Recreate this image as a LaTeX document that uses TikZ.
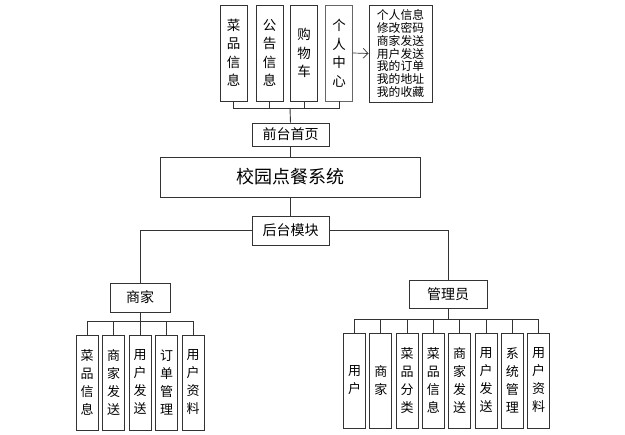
\documentclass[tikz,border=0pt]{standalone}
\usepackage{fontspec}
\newfontfamily\cjk{Noto Sans CJK SC}
\usetikzlibrary{arrows.meta}
\tikzset{
  box/.style={draw=black!80, line width=0.9pt, inner sep=0pt, align=center, text=black},
  vbox/.style={box, minimum width=22pt, minimum height=95pt, font=\cjk\fontsize{13}{18}\selectfont},
  tbox/.style={box, minimum width=27pt, minimum height=96pt, font=\cjk\fontsize{13.5}{18.5}\selectfont},
  hbox/.style={box, font=\cjk\fontsize{14}{16}\selectfont},
  conn/.style={draw=black!80, line width=0.9pt},
}
\begin{document}
\begin{tikzpicture}[x=1pt,y=-1pt]
\useasboundingbox (0,0) rectangle (625,435);
% top row
\node[tbox] (t1) at (233.5,53) {菜\\品\\信\\息};
\node[tbox] (t2) at (269.5,53) {公\\告\\信\\息};
\node[tbox] (t3) at (304,53) {购\\物\\车};
\node[tbox, draw=black!60] (t4) at (339,53) {个\\人\\中\\心};
\node[box, minimum width=63pt, minimum height=97pt, font=\cjk\fontsize{11.8}{12.7}\selectfont] (t5) at (400.5,53.5) {个人信息\\修改密码\\商家发送\\用户发送\\我的订单\\我的地址\\我的收藏};
\draw[conn, -{Straight Barb[length=5pt,width=10pt]}, line width=0.7pt] (t4.east) -- (t5.west);
% middle
\node[hbox, minimum width=77pt, minimum height=23pt] (qt) at (290.5,134.5) {前台首页};
\node[box, minimum width=260pt, minimum height=40pt, font=\cjk\fontsize{18}{20}\selectfont] (main) at (290,177) {校园点餐系统};
\node[hbox, minimum width=77pt, minimum height=29pt] (ht) at (290.5,230.5) {后台模块};
\coordinate (tbus) at (290,108);
\draw[conn] (qt.north) -- (tbus);
\foreach \n in {t1,t2,t3,t4} \draw[conn] (\n.south) |- (tbus);
\draw[conn] (qt.south) -- (qt.south |- main.north);
\draw[conn] (main.south) -- (main.south |- ht.north);
% second level
\node[hbox, minimum width=60pt, minimum height=29pt] (sj) at (140,297.5) {商家};
\node[hbox, minimum width=78pt, minimum height=28pt] (gly) at (448,294) {管理员};
\draw[conn] (ht.west) -| (sj.north);
\draw[conn] (ht.east) -| (gly.north);
% merchant children
\node[vbox] (a1) at (87,382.5) {菜\\品\\信\\息};
\node[vbox] (a2) at (113.5,382.5) {商\\家\\发\\送};
\node[vbox] (a3) at (140,382.5) {用\\户\\发\\送};
\node[vbox] (a4) at (166.5,382.5) {订\\单\\管\\理};
\node[vbox] (a5) at (193,382.5) {用\\户\\资\\料};
\coordinate (lbus) at (140,321);
\draw[conn] (sj.south) -- (lbus);
\foreach \n in {a1,a2,a3,a4,a5} \draw[conn] (\n.north) |- (lbus);
% admin children
\node[vbox] (b1) at (354.5,380.5) {用\\户};
\node[vbox] (b2) at (380.8,380.5) {商\\家};
\node[vbox] (b3) at (407.1,380.5) {菜\\品\\分\\类};
\node[vbox] (b4) at (433.4,380.5) {菜\\品\\信\\息};
\node[vbox] (b5) at (459.7,380.5) {商\\家\\发\\送};
\node[vbox] (b6) at (486,380.5) {用\\户\\发\\送};
\node[vbox] (b7) at (512.3,380.5) {系\\统\\管\\理};
\node[vbox] (b8) at (538.6,380.5) {用\\户\\资\\料};
\coordinate (rbus) at (448,319);
\draw[conn] (gly.south) -- (rbus);
\foreach \n in {b1,b2,b3,b4,b5,b6,b7,b8} \draw[conn] (\n.north) |- (rbus);
\end{tikzpicture}
\end{document}
